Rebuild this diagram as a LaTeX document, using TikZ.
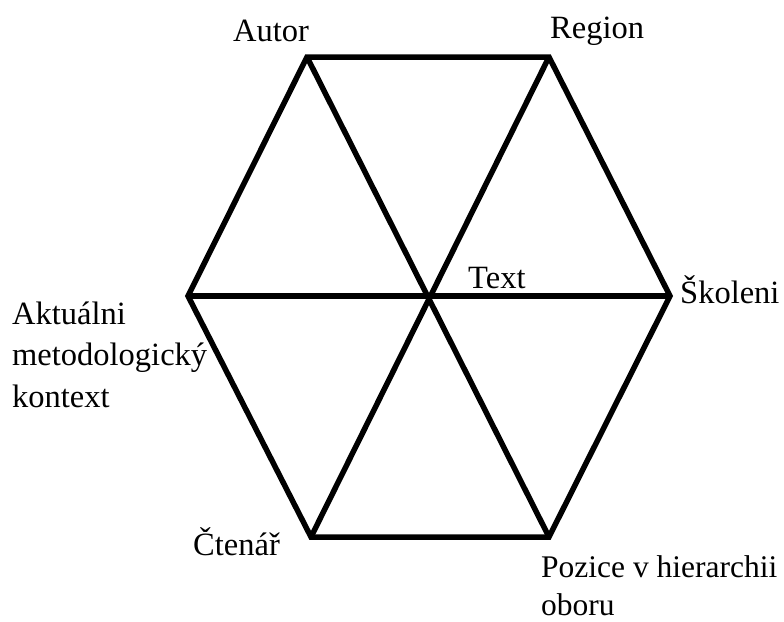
\documentclass[tikz,border=0pt]{standalone}
\usepackage{fontspec}
\setmainfont{Liberation Serif}
\begin{document}
\begin{tikzpicture}[x=1pt,y=-1pt,
  edge/.style={line width=5.5pt,line join=miter,line cap=butt},
  lbl/.style={font=\fontsize{32.5}{40}\selectfont,inner sep=0pt,anchor=base west,align=left}]
\useasboundingbox (0,0) rectangle (784,621);
\coordinate (A) at (307,57);
\coordinate (R) at (549,57);
\coordinate (S) at (670,296);
\coordinate (P) at (549,537);
\coordinate (C) at (311,537);
\coordinate (L) at (188,296);
\coordinate (T) at (430,296);
\draw[edge] (A) -- (R) -- (S) -- (P) -- (C) -- (L) -- cycle;
\draw[edge] (A) -- (P);
\draw[edge] (R) -- (C);
\draw[edge] (L) -- (S);
\node[lbl] (autor) at (233,41) {Autor};
\node[lbl] (region) at (550,38) {Region};
\node[lbl] (text) at (468,288) {Text};
\node[lbl] (skoleni) at (680,303) {Školeni};
\node[lbl,font=\fontsize{32.5}{41.5}\selectfont] (aktualni) at (12,407) {Aktuálni\\metodologický\\kontext};
\node[lbl] (ctenar) at (193,555) {Čtenář};
\node[lbl,font=\fontsize{31.5}{38}\selectfont] (pozice) at (541,615) {Pozice v hierarchii\\oboru};
\end{tikzpicture}
\end{document}
